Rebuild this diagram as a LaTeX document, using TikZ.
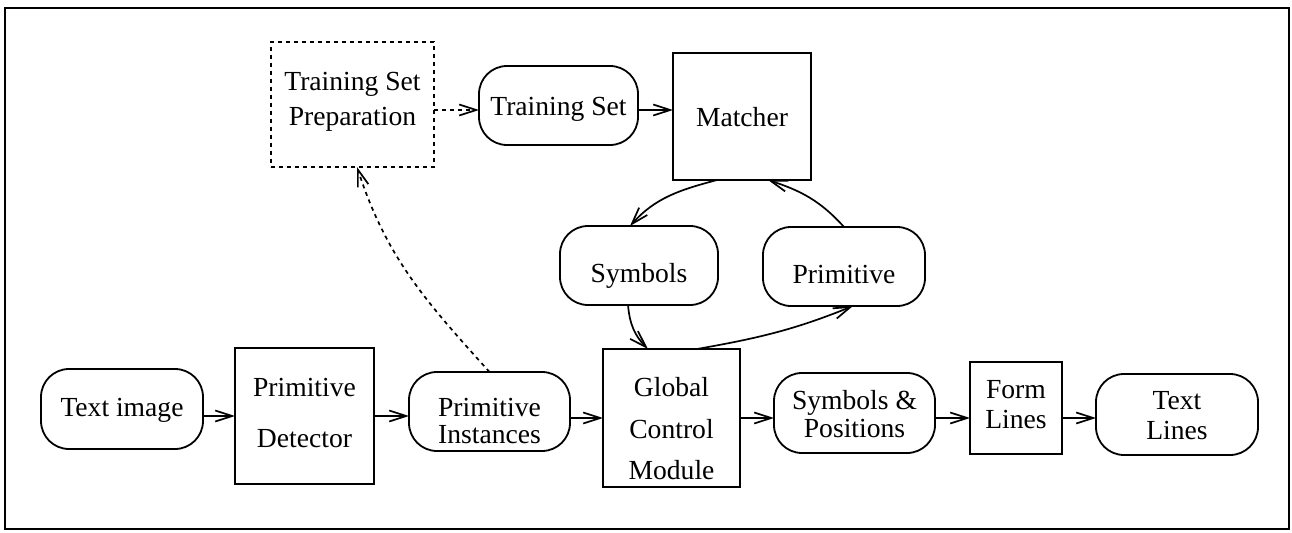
\documentclass[tikz,border=0pt]{standalone}
\usepackage{fontspec}
\setmainfont{Liberation Serif}
\usetikzlibrary{arrows.meta}
\newcommand\nodetext[2]{\raisebox{-#1}[\height][\depth]{\begin{tabular}{@{}c@{}}#2\end{tabular}}}
\begin{document}
\begin{tikzpicture}[x=0.5pt,y=0.5pt,
  every node/.style={font=\fontsize{13.8}{13.5}\selectfont, inner sep=0pt, outer sep=0pt},
  base/.style={draw, line width=0.9pt},
  sqbox/.style={base, rectangle},
  rbox/.style={base, rectangle, rounded corners=14pt},
  dotbox/.style={sqbox, dash pattern=on 2pt off 2pt},
  arr/.style={line width=0.85pt, -{Straight Barb[length=8.5pt,width=5.5pt,line width=0.85pt]}},
  dotarr/.style={arr, dash pattern=on 2pt off 2pt},
]
\useasboundingbox (0,0) rectangle (1292,532);
\draw[line width=0.9pt] (5,3) rectangle (1289,524);

% top row
\node[dotbox, minimum width=81.5pt, minimum height=62.5pt] (TSP) at (352.5,427.5) {\nodetext{-0.9pt}{Training Set\\[4pt]Preparation}};
\node[rbox, minimum width=79.5pt, minimum height=39.5pt] (TS) at (558.5,426.5) {\nodetext{2.3pt}{Training Set}};
\node[sqbox, minimum width=69pt, minimum height=63.5pt] (Mat) at (742,415.5) {\nodetext{2.1pt}{Matcher}};

% middle row
\node[rbox, minimum width=79pt, minimum height=39.5pt] (Sym) at (639,266.5) {\nodetext{5.6pt}{Symbols}};
\node[rbox, minimum width=81pt, minimum height=39.5pt] (Prim) at (844,265.5) {\nodetext{5.6pt}{Primitive}};

% bottom row
\node[rbox, minimum width=81pt, minimum height=40pt] (TI) at (122,123) {\nodetext{0.8pt}{Text image}};
\node[sqbox, minimum width=69.5pt, minimum height=68pt] (PD) at (304.5,116) {\nodetext{0.2pt}{Primitive\\[12pt]Detector}};
\node[rbox, minimum width=80.5pt, minimum height=39.5pt] (PI) at (489.5,120.5) {\nodetext{6.5pt}{Primitive\\Instances}};
\node[sqbox, minimum width=68.5pt, minimum height=69pt] (GCM) at (671.5,114) {\nodetext{7.3pt}{Global\\[7pt]Control\\[7pt]Module}};
\node[rbox, minimum width=80.5pt, minimum height=40pt] (SP) at (854.5,119) {\nodetext{2.3pt}{Symbols \&\\[0.5pt]Positions}};
\node[sqbox, minimum width=46pt, minimum height=46pt] (FL) at (1016,124) {\nodetext{0.2pt}{Form\\[1.5pt]Lines}};
\node[rbox, minimum width=81pt, minimum height=40.5pt] (TL) at (1177,117.5) {\nodetext{2.3pt}{Text\\[1.5pt]Lines}};

% top row connectors
\coordinate (tsin) at ([yshift=-2.25pt]TS.west);
\draw[dotarr] (TSP.east |- tsin) -- (tsin);
\draw[arr] (TS.east |- tsin) -- (Mat.west |- tsin);

% loop connectors
\draw[arr] ([xshift=-12.5pt]Mat.south) to[out=195,in=48] ([xshift=-4.5pt]Sym.north);
\draw[arr] (Prim.north) to[out=132,in=-18] ([xshift=13pt]Mat.south);
\draw[arr] ([xshift=-5.5pt]Sym.south) to[out=-85,in=135] ([xshift=-11.75pt]GCM.north);
\draw[arr] ([xshift=12.75pt]GCM.north) to[out=10,in=202] ([xshift=4.5pt]Prim.south);

% dotted feedback
\draw[dotarr] (PI.north) to[out=132,in=-72] ([xshift=2.25pt]TSP.south);

% bottom row connectors
\draw[arr] (TI.east |- PD.west) -- (PD.west);
\draw[arr] (PD.east) -- (PD.east -| PI.west);
\draw[arr] (PI.east |- GCM.west) -- (GCM.west);
\draw[arr] (GCM.east) -- (GCM.east -| SP.west);
\draw[arr] (SP.east |- GCM.east) -- (FL.west |- GCM.east);
\draw[arr] (FL.east |- GCM.east) -- (TL.west |- GCM.east);
\end{tikzpicture}
\end{document}
